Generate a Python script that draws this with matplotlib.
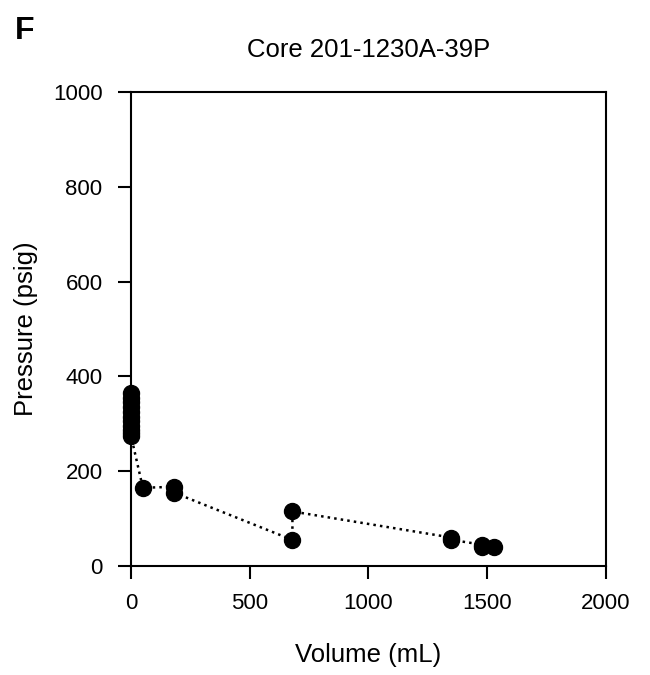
import matplotlib
matplotlib.use("Agg")
import matplotlib.pyplot as plt

plt.rcParams['font.family'] = ['Liberation Sans', 'DejaVu Sans']

# volume (mL) and pressure (psig), in measurement order
volume = [0, 0, 0, 0, 0, 0, 0, 0, 0, 0, 0,
          50, 180, 180, 680, 680, 1350, 1350, 1480, 1480, 1530]
pressure = [365, 355, 345, 335, 325, 315, 305, 295, 287, 280, 275,
            165, 167, 155, 55, 115, 60, 55, 45, 40, 40]

fig = plt.figure(figsize=(6.5, 6.75), dpi=100)
ax = fig.add_axes([0.2015, 0.1615, 0.7305, 0.7022])

ax.plot(volume, pressure, color='black', linestyle=':', linewidth=1.8,
        marker='o', markersize=11.5, markerfacecolor='black',
        markeredgecolor='black', clip_on=False)

ax.set_xlim(0, 2000)
ax.set_ylim(0, 1000)
ax.set_xticks([0, 500, 1000, 1500, 2000])
ax.set_yticks([0, 200, 400, 600, 800, 1000])
ax.tick_params(direction='out', length=9.5, width=1.5, labelsize=16)
ax.tick_params(axis='x', pad=10)
ax.tick_params(axis='y', pad=11)
for s in ax.spines.values():
    s.set_linewidth(1.5)

ax.set_xlabel('Volume (mL)', fontsize=18.5, va='top')
ax.xaxis.set_label_coords(0.5, -0.163)
ax.set_ylabel('Pressure (psig)', fontsize=18.5, va='center')
ax.yaxis.set_label_coords(-0.222, 0.5)
ax.set_title('Core 201-1230A-39P', fontsize=18.5, pad=25)
fig.text(25 / 650, 1 - 31 / 675, 'F', fontsize=23, fontweight='bold',
         ha='center', va='center')

fig.savefig('out.png', dpi=100)
